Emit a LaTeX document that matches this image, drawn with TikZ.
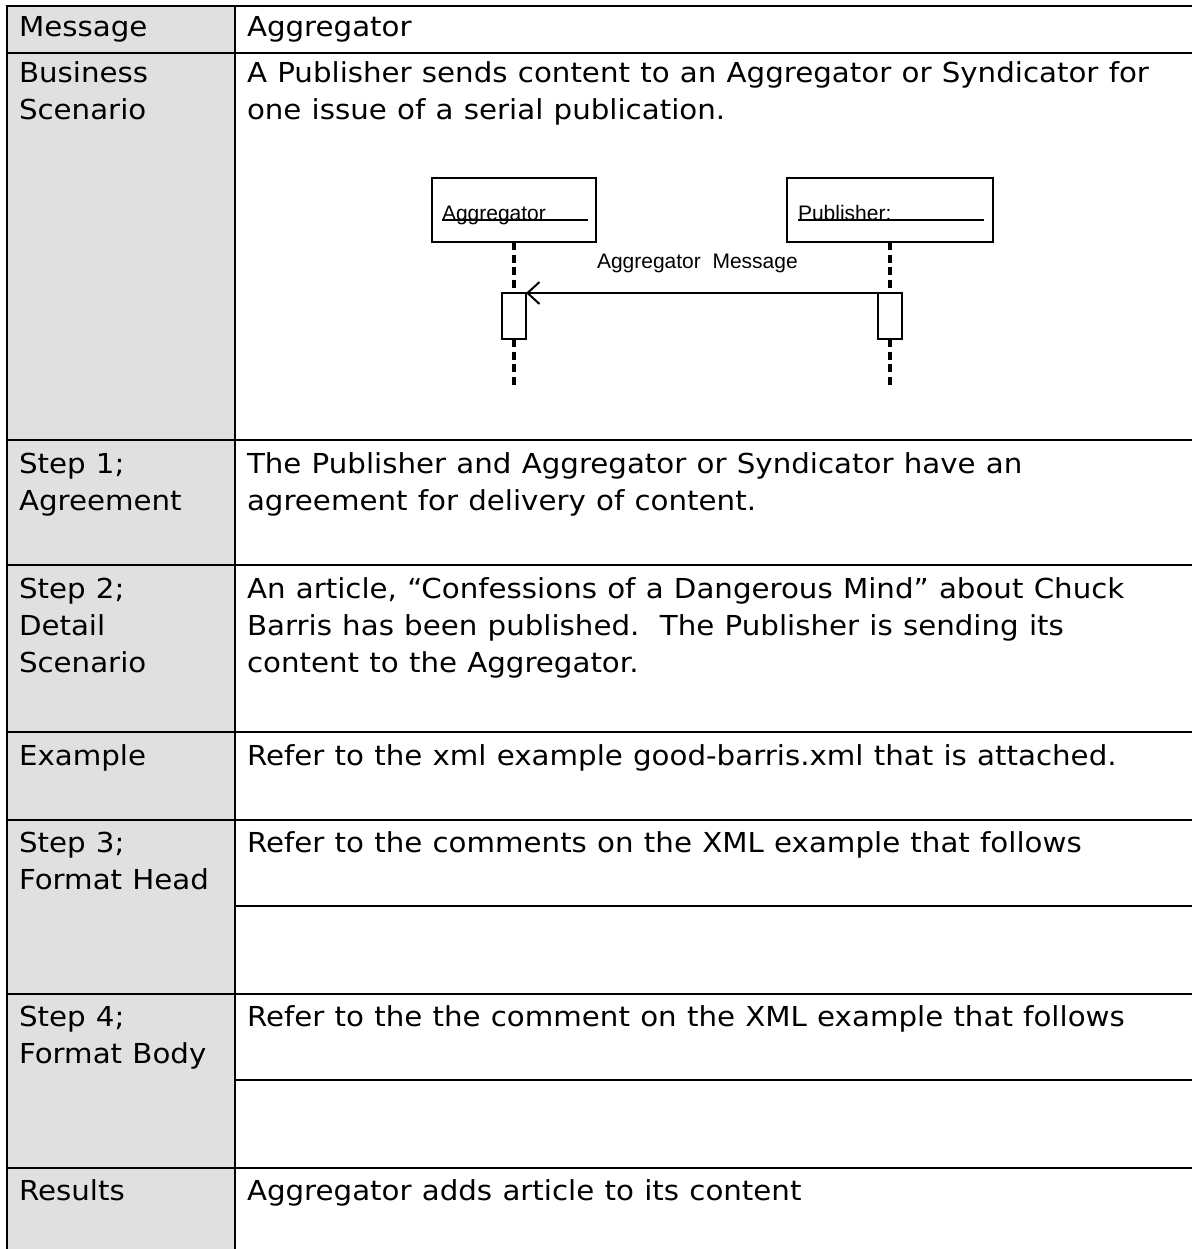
\documentclass[tikz,border=0pt]{standalone}
\usepackage{fontspec}
\setmainfont[FakeStretch=1.065,WordSpace=1.1]{DejaVu Sans}
\newfontfamily\diagfont{Liberation Sans}
\usetikzlibrary{arrows.meta}
\definecolor{cellgray}{HTML}{E0E0E0}
\tikzset{
  every node/.style={inner sep=0pt, outer sep=0pt},
  cell/.style={anchor=base west, font=\fontsize{27.5}{37}\selectfont},
  rule/.style={line width=2.6pt},
  objbox/.style={draw, line width=2pt, minimum height=64pt},
  actbox/.style={draw, line width=2pt, fill=white, minimum width=24pt, minimum height=46pt},
  dlabel/.style={anchor=base west, font=\diagfont\fontsize{21}{25}\selectfont},
  lifeline/.style={line width=3.8pt, dash pattern=on 8pt off 4.5pt},
  msgarrow/.style={line width=2pt, -{Straight Barb[length=12pt,width=22pt,line width=2pt]}},
  strike/.style={line width=1.6pt}
}
\begin{document}
\begin{tikzpicture}[x=1pt,y=-1pt]
\useasboundingbox (0,0) rectangle (1192,1249);
% left column fill
\fill[cellgray] (7,6) rectangle (235,1249);
% rules
\foreach \yy in {6,53,440,565,732,820,994,1168}
  \draw[rule] (5.7,\yy) -- (1192,\yy);
\foreach \yy in {906,1080}
  \draw[rule] (235,\yy) -- (1192,\yy);
\draw[rule] (7,4.7) -- (7,1249);
\draw[rule] (235,4.7) -- (235,1249);
% left column labels
\node[cell] (l1) at (19,37) {Message};
\node[cell] (l2a) at (19,83) {Business};
\node[cell] (l2b) at (19,120) {Scenario};
\node[cell] (l3a) at (19,473) {Step 1;};
\node[cell] (l3b) at (19,510) {Agreement};
\node[cell] (l4a) at (19,598) {Step 2;};
\node[cell] (l4b) at (19,635) {Detail};
\node[cell] (l4c) at (19,672) {Scenario};
\node[cell] (l5) at (19,765) {Example};
\node[cell] (l6a) at (19,852) {Step 3;};
\node[cell] (l6b) at (19,889) {Format Head};
\node[cell] (l7a) at (19,1026) {Step 4;};
\node[cell] (l7b) at (19,1063) {Format Body};
\node[cell] (l8) at (19,1200) {Results};
% right column text
\node[cell] (r1) at (247,37) {Aggregator};
\node[cell] (r2a) at (247,83) {A Publisher sends content to an Aggregator or Syndicator for};
\node[cell] (r2b) at (247,120) {one issue of a serial publication.};
\node[cell] (r3a) at (247,473) {The Publisher and Aggregator or Syndicator have an};
\node[cell] (r3b) at (247,510) {agreement for delivery of content.};
\node[cell] (r4a) at (247,598) {An article, “Confessions of a Dangerous Mind” about Chuck};
\node[cell] (r4b) at (247,635) {Barris has been published.~~The Publisher is sending its};
\node[cell] (r4c) at (247,672) {content to the Aggregator.};
\node[cell] (r5) at (247,765) {Refer to the xml example good-barris.xml that is attached.};
\node[cell] (r6) at (247,852) {Refer to the comments on the XML example that follows};
\node[cell] (r7) at (247,1026) {Refer to the the comment on the XML example that follows};
\node[cell] (r8) at (247,1200) {Aggregator adds article to its content};
% sequence diagram
\node[objbox, minimum width=164pt] (agg) at (514,210) {};
\node[objbox, minimum width=206pt] (pub) at (890,210) {};
\node[dlabel] (agglbl) at (442,221) {Aggregator};
\node[dlabel] (publbl) at (798,221) {Publisher:};
\coordinate (aggul) at (588,220);
\coordinate (pubul) at (984,220);
\draw[strike] ([yshift=1pt]agglbl.base west) -- (aggul);
\draw[strike] ([yshift=1pt]publbl.base west) -- (pubul);
\node[actbox] (aggact) at (514,316) {};
\node[actbox] (pubact) at (890,316) {};
\coordinate (aggend) at (514,388);
\coordinate (pubend) at (890,388);
\draw[lifeline] (agg.south) -- (aggact.north);
\draw[lifeline] (aggact.south) -- (aggend);
\draw[lifeline] (pub.south) -- (pubact.north);
\draw[lifeline] (pubact.south) -- (pubend);
\draw[msgarrow] (pubact.north west) -- (aggact.north east);
\node[dlabel] (msglbl) at (597,268) {Aggregator~~Message};
\end{tikzpicture}
\end{document}
